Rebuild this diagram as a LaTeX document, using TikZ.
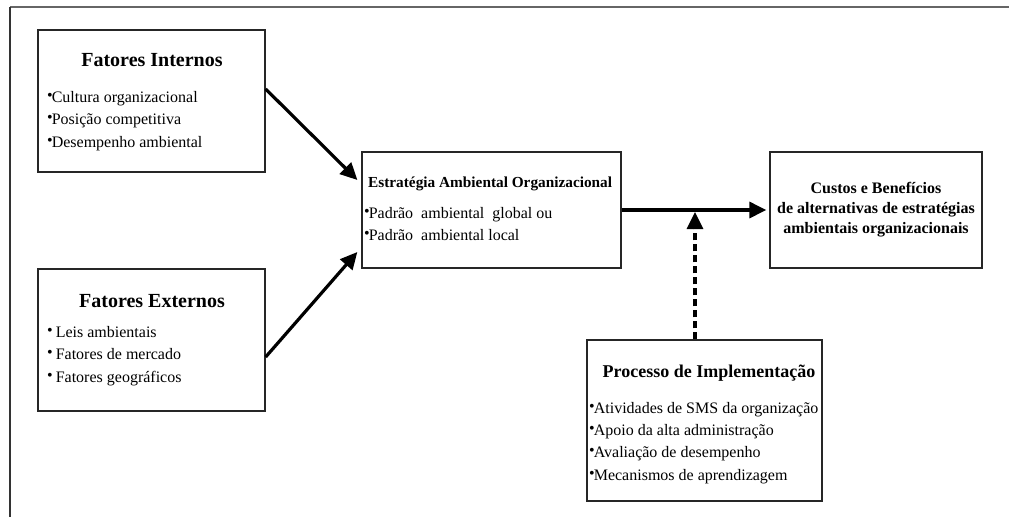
\documentclass[tikz,border=0pt]{standalone}
\usepackage{fontspec}
\setmainfont{Liberation Serif}
\usetikzlibrary{arrows.meta}

\newcommand{\bul}{\raisebox{0.15ex}{\textbullet}\kern-1pt}

\tikzset{
  box/.style={draw=black!85, line width=1.3pt, inner sep=0pt},
  bigtitle/.style={font=\bfseries\fontsize{20}{24}\selectfont, anchor=base, inner sep=0pt},
  midtitle/.style={font=\bfseries\fontsize{16}{20}\selectfont, inner sep=0pt},
  item/.style={font=\fontsize{16}{22}\selectfont, anchor=base west, inner sep=0pt},
  arr/.style={-{Triangle[length=17pt,width=16pt]}, line width=3.2pt}
}

\begin{document}
\begin{tikzpicture}[x=1pt, y=-1pt]
  \useasboundingbox (0,0) rectangle (1009,517);
  % frame
  \draw [line width=2pt, black!60] (10,7) -- (1009,7);
  \draw [line width=2pt, black!80] (10,7) -- (10,517);

  % Fatores Internos
  \node [box, minimum width=227pt, minimum height=142pt] (FI) at (151.5,101) {};
  \node [bigtitle] (FIt) at (152,66) {Fatores Internos};
  \node [item] (FI1) at (47,102) {\bul Cultura organizacional};
  \node [item] (FI2) at (47,124) {\bul Posição competitiva};
  \node [item] (FI3) at (47,147) {\bul Desempenho ambiental};

  % Fatores Externos
  \node [box, minimum width=227pt, minimum height=142pt] (FE) at (151.5,340) {};
  \node [bigtitle] (FEt) at (152,307) {Fatores Externos};
  \node [item] (FE1) at (47,337) {\bul\ Leis ambientais};
  \node [item] (FE2) at (47,359) {\bul\ Fatores de mercado};
  \node [item] (FE3) at (47,382) {\bul\ Fatores geográficos};

  % Estrategia
  \node [box, minimum width=259pt, minimum height=116pt] (EA) at (491.5,210) {};
  \node [midtitle, font=\bfseries\fontsize{15.3}{20}\selectfont, anchor=base west] (EAt) at (368,187) {Estratégia Ambiental Organizacional};
  \node [item] (EA1) at (364,218) {\bul Padrão\ \ ambiental\ \ global ou};
  \node [item] (EA2) at (364,240) {\bul Padrão\ \ ambiental local};

  % Custos e Beneficios
  \node [box, midtitle, align=center, minimum width=212pt, minimum height=116pt] (CB) at (876,210)
    {Custos e Benefícios\\de alternativas de estratégias\\ambientais organizacionais};

  % Processo de Implementacao
  \node [box, minimum width=235pt, minimum height=161pt] (PI) at (704.5,420.5) {};
  \node [bigtitle, font=\bfseries\fontsize{18}{22}\selectfont] (PIt) at (709,377) {Processo de Implementação};
  \node [item] (PI1) at (589,413) {\bul Atividades de SMS da organização};
  \node [item] (PI2) at (589,435) {\bul Apoio da alta administração};
  \node [item] (PI3) at (589,457) {\bul Avaliação de desempenho};
  \node [item] (PI4) at (589,480) {\bul Mecanismos de aprendizagem};

  \coordinate (J) at (695,212);
  \draw [arr] ([yshift=12pt]FI.east) -- ([shift={(-4pt,30pt)}]EA.west);
  \draw [arr] ([yshift=-17pt]FE.east) -- ([shift={(-4pt,-42pt)}]EA.west);
  \draw [arr] (EA.east) -- ([xshift=-3pt]CB.west);
  \draw [arr, dash pattern=on 7pt off 4pt] ([xshift=-9.5pt]PI.north) -- (J);
\end{tikzpicture}
\end{document}
